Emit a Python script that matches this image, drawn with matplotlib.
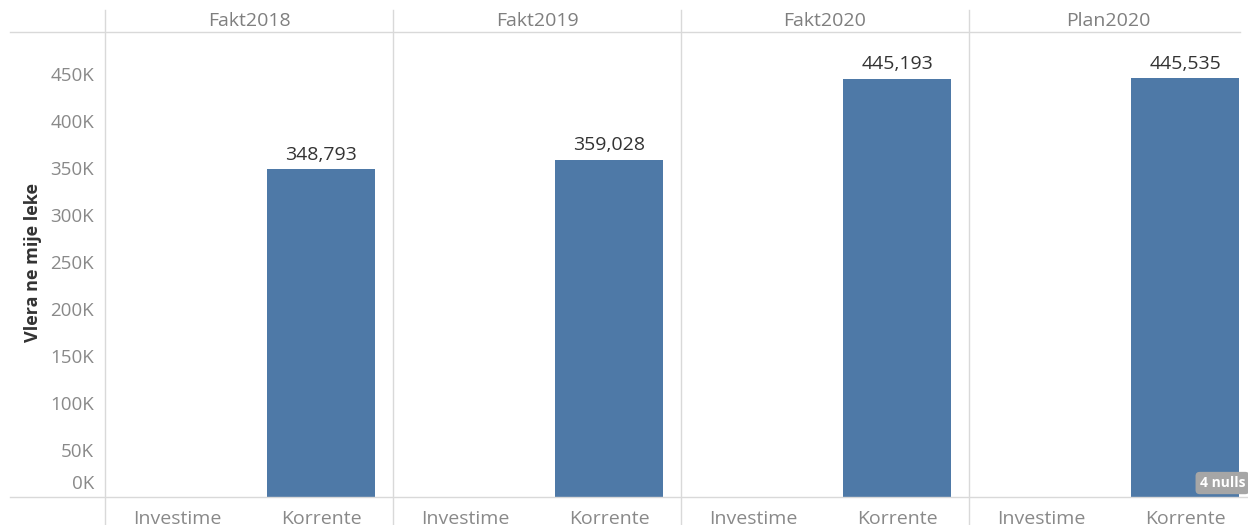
import matplotlib
matplotlib.use("Agg")
import matplotlib.pyplot as plt
import matplotlib.transforms as mtransforms
from matplotlib.lines import Line2D
import numpy as np

# data
periods = ["Fakt2018", "Fakt2019", "Fakt2020", "Plan2020"]
categories = ["Investime", "Korrente"]
investime = [np.nan, np.nan, np.nan, np.nan]  # nulls
korrente = [348793, 359028, 445193, 445535]
yticks = [0, 50000, 100000, 150000, 200000, 250000, 300000, 350000, 400000, 450000]
ytick_labels = ["0K", "50K", "100K", "150K", "200K", "250K", "300K", "350K", "400K", "450K"]
ylabel = "Vlera ne mije leke"
nulls_note = "4 nulls"

plt.rcParams['font.family'] = ['Open Sans', 'DejaVu Sans']

W, H = 1248, 525
fig = plt.figure(figsize=(W / 100, H / 100), dpi=100)

bar_color = "#4e79a7"
grid_color = "#d9d9d9"
tick_color = "#898989"
header_color = "#7f7f7f"

left, right = 105 / W, 1.0
bottom, top = 1 - 497 / H, 1 - 32 / H
pw = (969 - 105) / 3 / W  # width of one panel

axes = []
for i, p in enumerate(periods):
    w = pw if i < 3 else right - (left + 3 * pw)
    ax = fig.add_axes([left + i * pw, bottom, w, top - bottom])
    vals = [investime[i], korrente[i]]
    x = np.arange(len(categories))
    bars = ax.bar(x, vals, width=0.75, color=bar_color)
    ax.bar_label(bars, labels=[f"{v:,.0f}" if not np.isnan(v) else "" for v in vals],
                 padding=4, color="#333333", fontsize=14)
    # keep every slot the same width, the last panel is a bit narrower
    ax.set_xlim(-0.5, -0.5 + 2 * w / pw)
    ax.set_ylim(0, 495000)
    ax.set_xticks(x)
    ax.set_xticklabels(categories, fontsize=14, color=tick_color)
    ax.tick_params(axis='x', length=0, pad=9)
    ax.set_yticks(yticks)
    if i == 0:
        ax.set_yticklabels(ytick_labels, fontsize=13.5, color=tick_color)
        ax.tick_params(axis='y', length=0, pad=8)
        lab0 = ax.get_yticklabels()[0]
        lab0.set_verticalalignment('bottom')
        lab0.set_transform(lab0.get_transform() + mtransforms.ScaledTranslation(0, 3 / 72, fig.dpi_scale_trans))
    else:
        ax.tick_params(axis='y', length=0, labelleft=False)
    for s in ax.spines.values():
        s.set_visible(False)
    ax.set_facecolor("none")
    ax.set_title(p, fontsize=14, color=header_color, pad=4)
    axes.append(ax)

# 4 nulls badge
last = axes[-1]
last.text(0.99, 0.015, nulls_note, transform=last.transAxes, ha='right', va='bottom',
          fontsize=10, fontweight='bold', color='white',
          bbox=dict(boxstyle='round,pad=0.3,rounding_size=0.3', fc='#a6a6a6', ec='none'))

# frame lines in the Tableau style
fig.add_artist(Line2D([10 / W, 1240 / W], [top, top], color=grid_color, lw=1))
fig.add_artist(Line2D([10 / W, 1.0], [bottom, bottom], color=grid_color, lw=1))
for i in range(4):
    xx = left + i * pw
    fig.add_artist(Line2D([xx, xx], [0, 1 - 10 / H], color=grid_color, lw=1))

fig.text(33 / W, 1 - 262 / H, ylabel, rotation=90, ha='center', va='center',
         fontsize=13, fontweight='bold', color='#333333')

fig.savefig("out.png", dpi=100)
